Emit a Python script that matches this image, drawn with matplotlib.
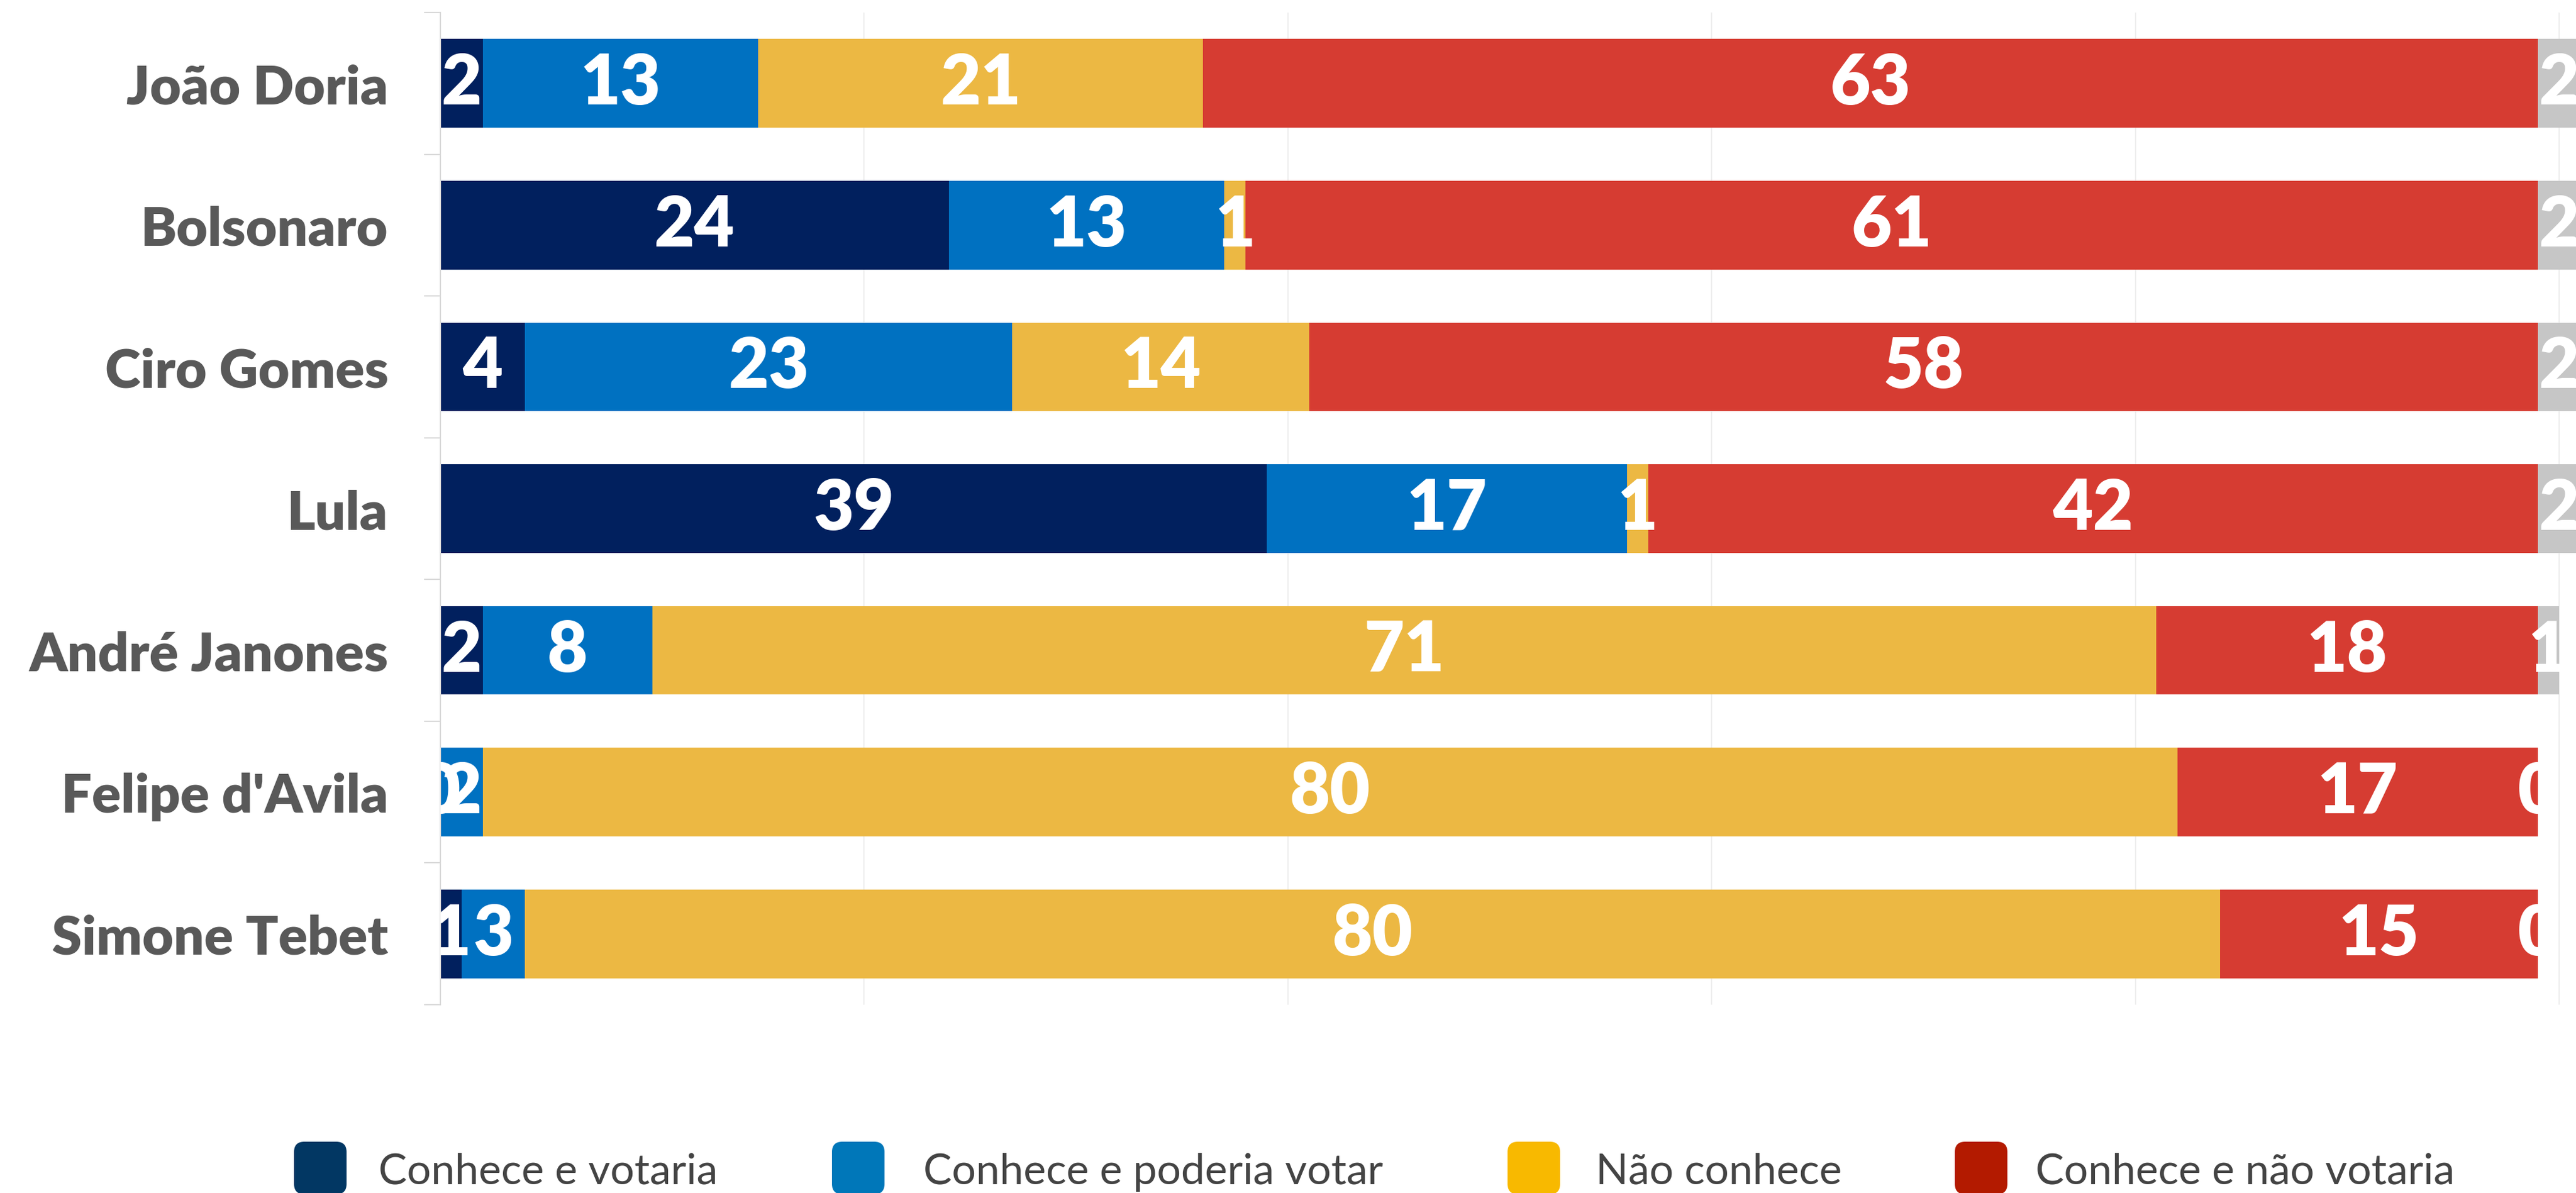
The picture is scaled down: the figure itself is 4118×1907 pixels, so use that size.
import matplotlib
matplotlib.use("Agg")
import matplotlib.pyplot as plt
from matplotlib.patches import FancyBboxPatch

# candidates, top to bottom
candidates = ["João Doria", "Bolsonaro", "Ciro Gomes", "Lula",
              "André Janones", "Felipe d'Avila", "Simone Tebet"]

# answer shares (%) per candidate
votaria = [2, 24, 4, 39, 2, 0, 1]
poderia_votar = [13, 13, 23, 17, 8, 2, 3]
nao_conhece = [21, 1, 14, 1, 71, 80, 80]
nao_votaria = [63, 61, 58, 42, 18, 17, 15]
nao_sabe = [2, 2, 2, 2, 1, 0, 0]

series = [votaria, poderia_votar, nao_conhece, nao_votaria, nao_sabe]
bar_colors = ["#01205e", "#0071c1", "#ecb843", "#d63c32", "#c6c6c6"]

legend_labels = ["Conhece e votaria", "Conhece e poderia votar",
                 "Não conhece", "Conhece e não votaria"]
legend_colors = ["#023763", "#0077b9", "#f8b900", "#b31a00"]

W, H = 4118, 1908
fig = plt.figure(figsize=(W / 100, H / 100), dpi=100)

# plot area in pixels: x=0 at 704px, 100 units = 3387px
px_per_unit = 3387 / 100
xmax = 101.5
ax = fig.add_axes([704 / W, 1 - 1607 / H, xmax * px_per_unit / W, (1607 - 21) / H])

y = list(range(len(candidates)))
left = [0] * len(candidates)
for vals, col in zip(series, bar_colors):
    ax.barh(y, vals, left=left, height=0.625, color=col, zorder=2, clip_on=False)
    for yi, (l, v) in enumerate(zip(left, vals)):
        ax.text(l + v / 2, yi, str(v), color="white", fontsize=80,
                fontweight="heavy", fontfamily="Lato", ha="center", va="center",
                zorder=3, clip_on=True)
    left = [l + v for l, v in zip(left, vals)]

ax.set_xlim(0, xmax)
ax.set_ylim(len(candidates) - 0.5, -0.5)

# light vertical gridlines
for gx in [20, 40, 60, 80, 100]:
    ax.axvline(gx, color="#eeeeee", lw=1.5, zorder=1)

for s in ["top", "right", "bottom"]:
    ax.spines[s].set_visible(False)
ax.spines["left"].set_color("#d9d9d9")
ax.spines["left"].set_linewidth(1.5)

ax.set_xticks([])
ax.set_yticks(y)
ax.set_yticklabels(candidates, fontsize=62, fontweight="heavy",
                   fontfamily="Lato", color="#595959")
ax.tick_params(axis="y", which="major", length=0, pad=60)
ax.set_yticks([i - 0.5 for i in range(len(candidates) + 1)], minor=True)
ax.tick_params(axis="y", which="minor", length=19, width=1.5, color="#d9d9d9")

# legend along the bottom edge
marker_x = [470, 1330, 2410, 3125]
text_x = [605, 1476, 2551, 3254]
for mx, tx, lab, col in zip(marker_x, text_x, legend_labels, legend_colors):
    box = FancyBboxPatch((mx / W, 1 - 1910 / H), 84 / W, 84 / H,
                         boxstyle="round,pad=0,rounding_size=0.004",
                         transform=fig.transFigure, facecolor=col,
                         edgecolor="none", mutation_aspect=W / H)
    fig.patches.append(box)
    fig.text(tx / W, 1 - 1874 / H, lab, fontsize=49, fontweight="normal",
             fontfamily="Lato", color="#444444", ha="left", va="center")

fig.savefig("out.png", dpi=100)
